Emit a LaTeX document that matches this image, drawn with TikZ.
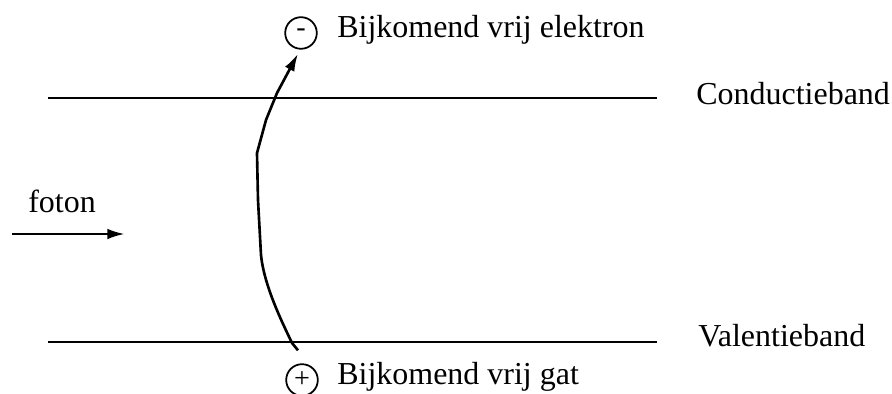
\documentclass[tikz,border=0pt]{standalone}
\usepackage{fontspec}
\setmainfont{Liberation Serif}
\usetikzlibrary{arrows.meta,calc}
\begin{document}
\begin{tikzpicture}[>={Latex[length=10pt,width=6pt]}, x=0.02cm, y=-0.02cm,
  font=\fontsize{18.2}{21}\selectfont, line width=1.5pt,
  lading/.style={draw, circle, line width=1pt, minimum size=18pt, inner sep=0pt, font=\fontsize{16}{18}\selectfont}]
\useasboundingbox (0,0) rectangle (892,394);
% banden
\draw (48,98) coordinate (cl) -- (657,98) coordinate (cr);
\draw (48,342) coordinate (vl) -- (657,342) coordinate (vr);
\node[anchor=base west, inner sep=0pt] (cband) at (695,105) {Conductieband};
\node[anchor=base west, inner sep=0pt] (vband) at (697,347) {Valentieband};
% elektron en gat
\node[lading] (min) at (301,33) {-};
\node[anchor=base west, inner sep=0pt] (elektron) at (336,38) {Bijkomend vrij elektron};
\node[lading] (plus) at (302,380) {+};
\node[anchor=base west, inner sep=0pt] (gat) at (336,385) {Bijkomend vrij gat};
% foton
\coordinate (fstart) at (12,234);
\coordinate (fend) at (125,234);
\draw[->] (fstart) -- (fend);
\node[anchor=base west, inner sep=0pt] (foton) at (27,213) {foton};
% overgang
\coordinate (start) at ($(plus.north)+(-4,-13)$);
\coordinate (tip) at ($(min.south)+(-3,4)$);
\draw[->, line join=round] (start) -- (292,343) .. controls (281,320) and (264,285) .. (261,255)
  -- (258,200) -- (257,153) -- (266,120) -- (277,93) -- (tip);
\end{tikzpicture}
\end{document}
